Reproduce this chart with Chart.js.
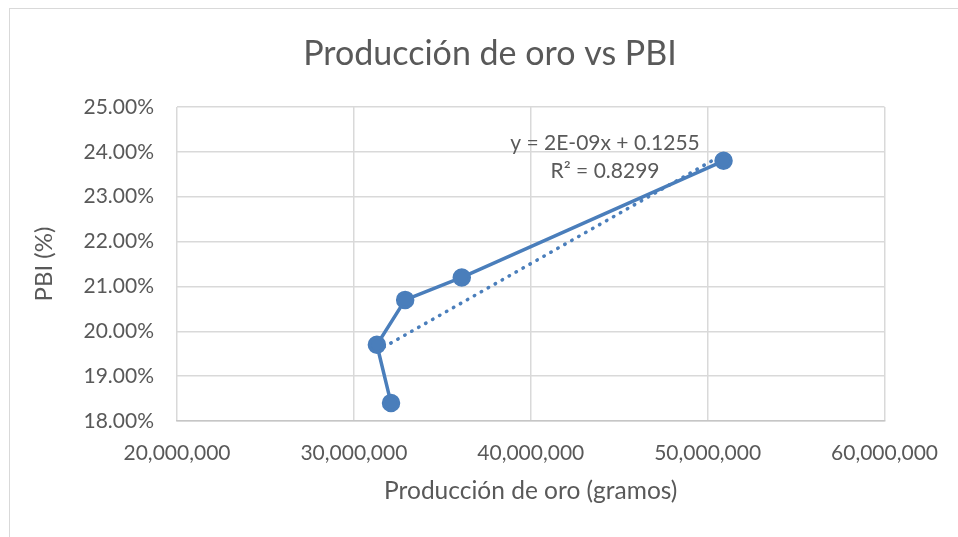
<!DOCTYPE html>
<html>
<head>
<meta charset="utf-8">
<title>Producción de oro vs PBI</title>
<script src="https://cdn.jsdelivr.net/npm/chart.js@4"></script>
<style>
  html, body { margin: 0; padding: 0; background: #fff; }
  canvas { display: block; }
</style>
</head>
<body>
<canvas id="chart" width="958" height="537"></canvas>
<script>
'use strict';

// values
const goldGrams = [32100000, 31300000, 32900000, 36100000, 50900000];
const pbiShare = [0.184, 0.197, 0.207, 0.212, 0.238];

const xTicks = [20000000, 30000000, 40000000, 50000000, 60000000];
const yTicks = [0.18, 0.19, 0.20, 0.21, 0.22, 0.23, 0.24, 0.25];

const chartTitle = 'Producción de oro vs PBI';
const trendText = ['y = 2E-09x + 0.1255', 'R\u00B2 = 0.8299'];

const blue = '#4A7EBB';
const grey = '#595959';
const font = 'Lato';

// least squares line over the points, drawn between min and max x
function trendPoints() {
  let n = goldGrams.length;
  let mx = goldGrams.reduce((a, b) => a + b, 0) / n;
  let my = pbiShare.reduce((a, b) => a + b, 0) / n;
  let sxy = 0, sxx = 0;
  for (let i = 0; i < n; i++) {
    sxy += (goldGrams[i] - mx) * (pbiShare[i] - my);
    sxx += (goldGrams[i] - mx) * (goldGrams[i] - mx);
  }
  let slope = sxy / sxx;
  let icpt = my - slope * mx;
  let lo = Math.min(...goldGrams);
  let hi = Math.max(...goldGrams);
  return [{x: lo, y: icpt + slope * lo}, {x: hi, y: icpt + slope * hi}];
}

// white background, thin chart border and the title
const frame = {
  id: 'frame',
  beforeDraw(chart) {
    let ctx = chart.ctx;
    ctx.save();
    ctx.fillStyle = '#fff';
    ctx.fillRect(0, 0, chart.width, chart.height);
    ctx.strokeStyle = '#d9d9d9';
    ctx.lineWidth = 1;
    ctx.strokeRect(9.5, 8.5, chart.width + 20, chart.height + 20);
    // title sits centred over the whole chart box, not the plot
    ctx.font = '34px ' + font;
    ctx.fillStyle = grey;
    ctx.textAlign = 'center';
    ctx.textBaseline = 'alphabetic';
    ctx.fillText(chartTitle, 490, 65);
    ctx.restore();
  }
};

// equation label of the trendline
const trendLabel = {
  id: 'trendLabel',
  afterDatasetsDraw(chart) {
    let ctx = chart.ctx;
    let x = chart.scales.x.getPixelForValue(44200000);
    let y = chart.scales.y.getPixelForValue(0.2420);
    ctx.save();
    ctx.font = '21px ' + font;
    ctx.fillStyle = grey;
    ctx.textAlign = 'center';
    ctx.textBaseline = 'middle';
    trendText.forEach((t, i) => ctx.fillText(t, x, y + i * 28));
    ctx.restore();
  }
};

let chartConfig = {
  type: 'scatter',
  data: {
    datasets: [{
      label: 'PBI',
      data: goldGrams.map((g, i) => ({x: g, y: pbiShare[i]})),
      showLine: true,
      borderColor: blue,
      backgroundColor: blue,
      borderWidth: 3.5,
      pointRadius: 7.5,
      pointHoverRadius: 7.5,
      order: 1
    }, {
      label: 'Lineal (PBI)',
      data: trendPoints(),
      showLine: true,
      borderColor: blue,
      borderWidth: 3.5,
      borderDash: [0.5, 7.5],
      borderCapStyle: 'round',
      pointRadius: 0,
      order: 2
    }]
  },
  options: {
    responsive: false,
    animation: false,
    devicePixelRatio: 1,
    layout: { padding: { left: 0, right: 73, top: 107, bottom: 0 } },
    plugins: {
      legend: { display: false },
      tooltip: { enabled: false },
      title: { display: false }
    },
    scales: {
      x: {
        type: 'linear',
        min: 20000000,
        max: 60000000,
        afterBuildTicks: s => { s.ticks = xTicks.map(v => ({value: v})); },
        afterFit: s => { s.height = 116; },
        ticks: {
          color: grey,
          padding: 20,
          font: { family: font, size: 21 },
          callback: v => v.toLocaleString('en-US')
        },
        grid: { color: '#d9d9d9', lineWidth: 1.5, drawTicks: false },
        border: { color: '#c6c6c6', width: 1.5 },
        title: {
          display: true,
          text: 'Producción de oro (gramos)',
          color: grey,
          font: { family: font, size: 24.5 },
          padding: { top: 0, bottom: 31 }
        }
      },
      y: {
        type: 'linear',
        min: 0.18,
        max: 0.25,
        afterBuildTicks: s => { s.ticks = yTicks.map(v => ({value: v})); },
        afterFit: s => { s.width = 177; },
        ticks: {
          color: grey,
          padding: 23,
          font: { family: font, size: 21 },
          callback: v => (v * 100).toFixed(2) + '%'
        },
        grid: { color: '#d9d9d9', lineWidth: 1.5, drawTicks: false },
        border: { display: false },
        title: {
          display: true,
          text: 'PBI (%)',
          color: grey,
          font: { family: font, size: 24 },
          padding: { top: 30, bottom: 0 }
        }
      }
    }
  },
  plugins: [frame, trendLabel]
};

let canvasElem = document.getElementById('chart');
let myChart = new Chart(canvasElem, chartConfig);
</script>
</body>
</html>
